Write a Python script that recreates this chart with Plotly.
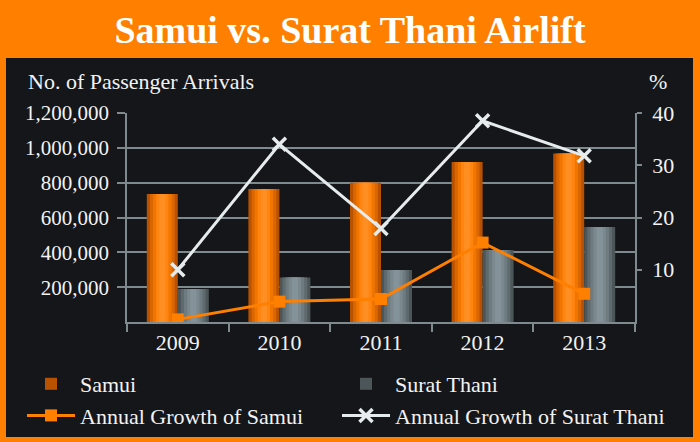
import plotly.graph_objects as go

years = ["2009", "2010", "2011", "2012", "2013"]
samui = [735000, 763000, 800000, 918000, 968000]
surat = [189000, 256000, 298000, 413000, 545000]
growth_samui = [0.5, 3.9, 4.4, 15.2, 5.4]
growth_surat = [10.0, 34.0, 17.9, 38.5, 31.8]

left_tickvals = [200000, 400000, 600000, 800000, 1000000, 1200000]
right_tickvals = [10, 20, 30, 40]

ORANGE_BG = "#FF7F00"
PANEL = "#151619"
GRID = "#7E8A8E"
FONT = "Liberation Serif"
TXT = "#F2F2F2"

fig = go.Figure()

bw = 0.305
orange_layers = ["#B85200", "#D96600", "#F07600", "#FF8410", "#FF8F22"]
gray_layers = ["#4C5659", "#5E6A6E", "#6E7B80", "#7B898E", "#84939A"]
fracs = [1.0, 0.8, 0.6, 0.4, 0.2]

for vals, colors, center, name, lg in [(samui, orange_layers, -bw / 2, "Samui", "legend"),
                                       (surat, gray_layers, bw / 2, "Surat Thani", "legend2")]:
    for i, (f, c) in enumerate(zip(fracs, colors)):
        w = bw * f
        fig.add_trace(go.Bar(
            x=years, y=vals, name=name, width=w, offset=center - w / 2,
            marker=dict(color=c, line=dict(width=0)),
            showlegend=(i == 0), legendgroup=name, legend=lg,
            hoverinfo="skip" if i else None,
        ))

fig.add_trace(go.Scatter(
    x=years, y=growth_samui, yaxis="y2", name="Annual Growth of Samui", legend="legend",
    mode="lines+markers", line=dict(color="#FF7F00", width=3),
    marker=dict(symbol="square", size=12, color="#FF7F00"),
))
fig.add_trace(go.Scatter(
    x=years, y=growth_surat, yaxis="y2", name="Annual Growth of Surat Thani", legend="legend2",
    mode="lines+markers", line=dict(color="#E6ECEE", width=3),
    marker=dict(symbol="x-thin", size=13, color="#E6ECEE",
                line=dict(width=3.5, color="#E6ECEE")),
))

L, R, T, B = 127, 65, 113, 120
W, H = 700, 442
pw, ph = W - L - R, H - T - B

def px(x):
    return (x - L) / pw

def py(y):
    return (H - B - y) / ph

fig.add_shape(type="rect", xref="paper", yref="paper",
              x0=px(6), x1=px(693), y0=py(437), y1=py(58),
              fillcolor=PANEL, line=dict(width=0), layer="below")

fig.add_annotation(text="No. of Passenger Arrivals", xref="paper", yref="paper",
                   x=px(26), y=py(81), xanchor="left", yanchor="middle",
                   showarrow=False, font=dict(family=FONT, size=22, color=TXT))
fig.add_annotation(text="%", xref="paper", yref="paper",
                   x=px(669), y=py(81), xanchor="right", yanchor="middle",
                   showarrow=False, font=dict(family=FONT, size=22, color=TXT))

legend_common = dict(orientation="v", xanchor="left", yanchor="top",
                     bgcolor="rgba(0,0,0,0)", tracegroupgap=0, itemwidth=48,
                     font=dict(family=FONT, size=22, color=TXT))

fig.update_layout(
    width=W, height=H,
    margin=dict(l=L, r=R, t=T, b=B, autoexpand=False),
    paper_bgcolor=ORANGE_BG, plot_bgcolor=PANEL,
    barmode="overlay",
    title=dict(text="<b>Samui vs. Surat Thani Airlift</b>", x=0.5, xanchor="center",
               y=1 - 30 / H, yanchor="middle", yref="container",
               font=dict(family=FONT, size=38, color="white")),
    font=dict(family=FONT, size=21, color=TXT),
    xaxis=dict(type="category", showline=True, linecolor=GRID, linewidth=1.5,
               ticks="outside", tickson="boundaries", ticklen=8, tickcolor=GRID,
               tickwidth=1.5, showgrid=False, tickfont=dict(size=22)),
    yaxis=dict(range=[0, 1200000], tickvals=left_tickvals,
               ticktext=[f"{v:,}" for v in left_tickvals],
               showline=True, linecolor=GRID, linewidth=1.5,
               ticks="outside", ticklen=8, tickcolor=GRID, tickwidth=1.5,
               showgrid=True, gridcolor=GRID, gridwidth=1.5, zeroline=False,
               ticklabelstandoff=4, tickfont=dict(size=21)),
    yaxis2=dict(range=[0, 40], tickvals=right_tickvals, overlaying="y", side="right",
                showline=True, linecolor=GRID, linewidth=1.5,
                ticks="outside", ticklen=5, tickcolor=GRID, tickwidth=1.5,
                showgrid=False, zeroline=False, ticklabelstandoff=6,
                tickfont=dict(size=22)),
    legend=dict(x=px(22), y=py(363), **legend_common),
    legend2=dict(x=px(337), y=py(363), **legend_common),
    showlegend=True,
)

fig.write_html("out.html", config={"displayModeBar": False},
               post_script="document.body.style.margin='0';document.body.style.padding='0';")
